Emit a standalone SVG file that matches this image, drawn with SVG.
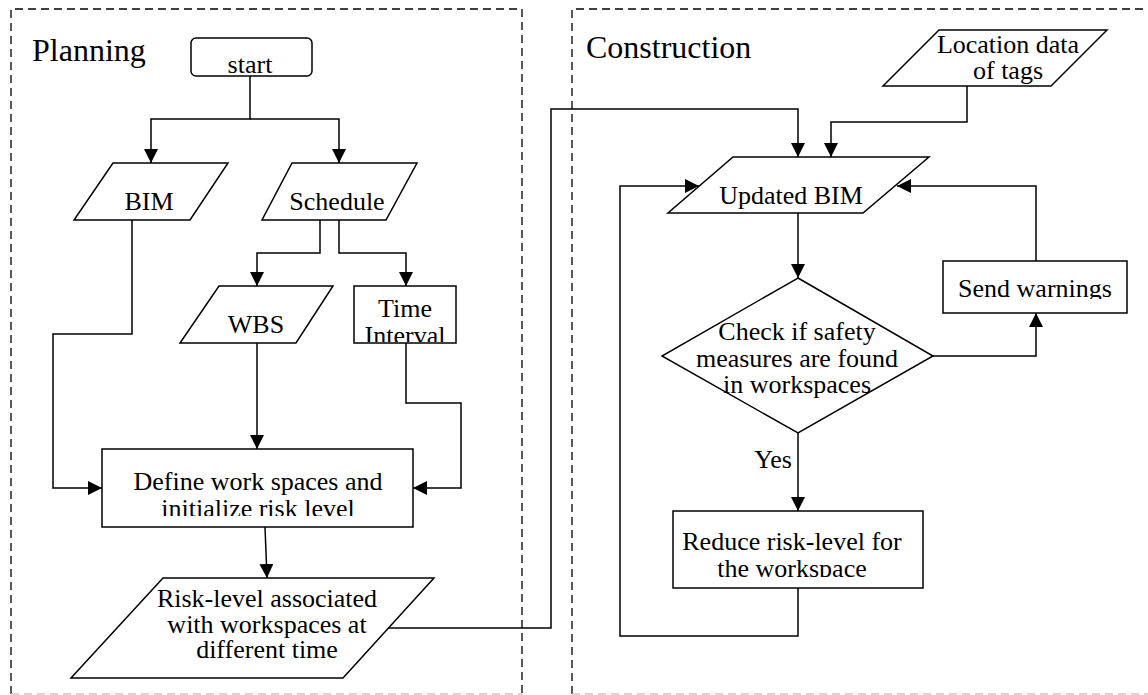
<svg xmlns="http://www.w3.org/2000/svg" width="1148" height="695" viewBox="0 0 1148 695">
<style>
  .t { font-family: "Liberation Serif", "Times New Roman", serif; font-size: 26px; fill: #000; }
  .title { font-family: "Liberation Serif", "Times New Roman", serif; font-size: 32px; fill: #000; }
  .shape { fill: #fff; stroke: #000; stroke-width: 1.5; }
  .conn { fill: none; stroke: #000; stroke-width: 1.5; }
  .frame { fill: none; stroke: #000; stroke-width: 1.3; stroke-dasharray: 8 5; }
  .frameb { fill: none; stroke: #c8c8c8; stroke-width: 1.3; stroke-dasharray: 8 5; }
</style>
<defs>
  <marker id="arr" markerUnits="userSpaceOnUse" markerWidth="14" markerHeight="14" refX="14" refY="7" orient="auto">
    <path d="M0,0 L14,7 L0,14 z" fill="#000"/>
  </marker>
  <clipPath id="clipTime"><rect x="354" y="286" width="102" height="56"/></clipPath>
  <clipPath id="clipDefine"><rect x="102" y="449" width="311" height="67"/></clipPath>
  <clipPath id="clipSend"><rect x="943" y="261" width="184" height="38"/></clipPath>
  <clipPath id="clipReduce"><rect x="673" y="511" width="250" height="66"/></clipPath>
</defs>
<rect width="1148" height="695" fill="#fff"/>

<g id="frames">
  <path class="frame" d="M11,694 V9 H522 V694"/>
  <path class="frameb" d="M11,694 H522"/>
  <path class="frame" d="M572,694 V9 H1150"/>
  <path class="frameb" d="M572,694 H1150"/>
  <text class="title" x="32" y="61">Planning</text>
  <text class="title" x="586" y="58">Construction</text>
</g>

<g id="connectors">
  <path class="conn" d="M250,76 V119 H151 V163" marker-end="url(#arr)"/>
  <path class="conn" d="M250,119 H339 V163" marker-end="url(#arr)"/>
  <path class="conn" d="M320,220 V253 H257 V286" marker-end="url(#arr)"/>
  <path class="conn" d="M339,220 V253 H406 V286" marker-end="url(#arr)"/>
  <path class="conn" d="M257,343 V449" marker-end="url(#arr)"/>
  <path class="conn" d="M132,220 V334 H53 V488 H102" marker-end="url(#arr)"/>
  <path class="conn" d="M406,343 V403 H461 V488 H413" marker-end="url(#arr)"/>
  <path class="conn" d="M265,527 L267,578" marker-end="url(#arr)"/>
  <path class="conn" d="M388,628 H551 V109 H798 V157" marker-end="url(#arr)"/>
  <path class="conn" d="M967,86 V122 H831 V157" marker-end="url(#arr)"/>
  <path class="conn" d="M798,213 V278" marker-end="url(#arr)"/>
  <path class="conn" d="M933,356 H1036 V313" marker-end="url(#arr)"/>
  <path class="conn" d="M1036,261 V186 H897" marker-end="url(#arr)"/>
  <path class="conn" d="M798,433 V511" marker-end="url(#arr)"/>
  <path class="conn" d="M798,588 V636 H620 V186 H699" marker-end="url(#arr)"/>
  <text class="t" x="792" y="468" text-anchor="end">Yes</text>
</g>

<g id="start">
  <rect class="shape" x="191" y="38" width="121" height="38" rx="5"/>
  <text class="t" x="250" y="73" text-anchor="middle">start</text>
</g>

<g id="bim">
  <polygon class="shape" points="113,163 228,163 190,220 74,220"/>
  <text class="t" x="149" y="210" text-anchor="middle">BIM</text>
</g>

<g id="schedule">
  <polygon class="shape" points="292,163 417,163 386,220 262,220"/>
  <text class="t" x="337" y="210" text-anchor="middle">Schedule</text>
</g>

<g id="wbs">
  <polygon class="shape" points="219,286 333,286 296,343 180,343"/>
  <text class="t" x="256" y="333" text-anchor="middle">WBS</text>
</g>

<g id="time-interval">
  <rect class="shape" x="354" y="286" width="102" height="57"/>
  <g clip-path="url(#clipTime)">
    <text class="t" x="405" y="317" text-anchor="middle">Time</text>
    <text class="t" x="405" y="344" text-anchor="middle">Interval</text>
  </g>
</g>

<g id="define">
  <rect class="shape" x="102" y="449" width="311" height="78"/>
  <g clip-path="url(#clipDefine)">
    <text class="t" x="258" y="490" text-anchor="middle">Define work spaces and</text>
    <text class="t" x="258" y="517" text-anchor="middle">initialize risk level</text>
  </g>
</g>

<g id="risk-level">
  <polygon class="shape" points="163,578 434,578 343,678 71,678"/>
  <text class="t" x="267" y="607" text-anchor="middle">Risk-level associated</text>
  <text class="t" x="267" y="633" text-anchor="middle">with workspaces at</text>
  <text class="t" x="267" y="658" text-anchor="middle">different time</text>
</g>

<g id="location">
  <polygon class="shape" points="939,30 1107,30 1051,86 883,86"/>
  <text class="t" x="1008" y="53" text-anchor="middle">Location data</text>
  <text class="t" x="1008" y="79" text-anchor="middle">of tags</text>
</g>

<g id="updated-bim">
  <polygon class="shape" points="733,157 929,157 863,213 668,213"/>
  <text class="t" x="791" y="204" text-anchor="middle">Updated BIM</text>
</g>

<g id="check">
  <polygon class="shape" points="798,278 933,356 798,433 662,356"/>
  <text class="t" x="797" y="340" text-anchor="middle">Check if safety</text>
  <text class="t" x="797" y="367" text-anchor="middle">measures are found</text>
  <text class="t" x="797" y="393" text-anchor="middle">in workspaces</text>
</g>

<g id="send-warnings">
  <rect class="shape" x="943" y="261" width="184" height="52"/>
  <g clip-path="url(#clipSend)">
    <text class="t" x="1035" y="297" text-anchor="middle">Send warnings</text>
  </g>
</g>

<g id="reduce">
  <rect class="shape" x="673" y="511" width="250" height="77"/>
  <g clip-path="url(#clipReduce)">
    <text class="t" x="792" y="550" text-anchor="middle">Reduce risk-level for</text>
    <text class="t" x="792" y="577" text-anchor="middle">the workspace</text>
  </g>
</g>
</svg>
